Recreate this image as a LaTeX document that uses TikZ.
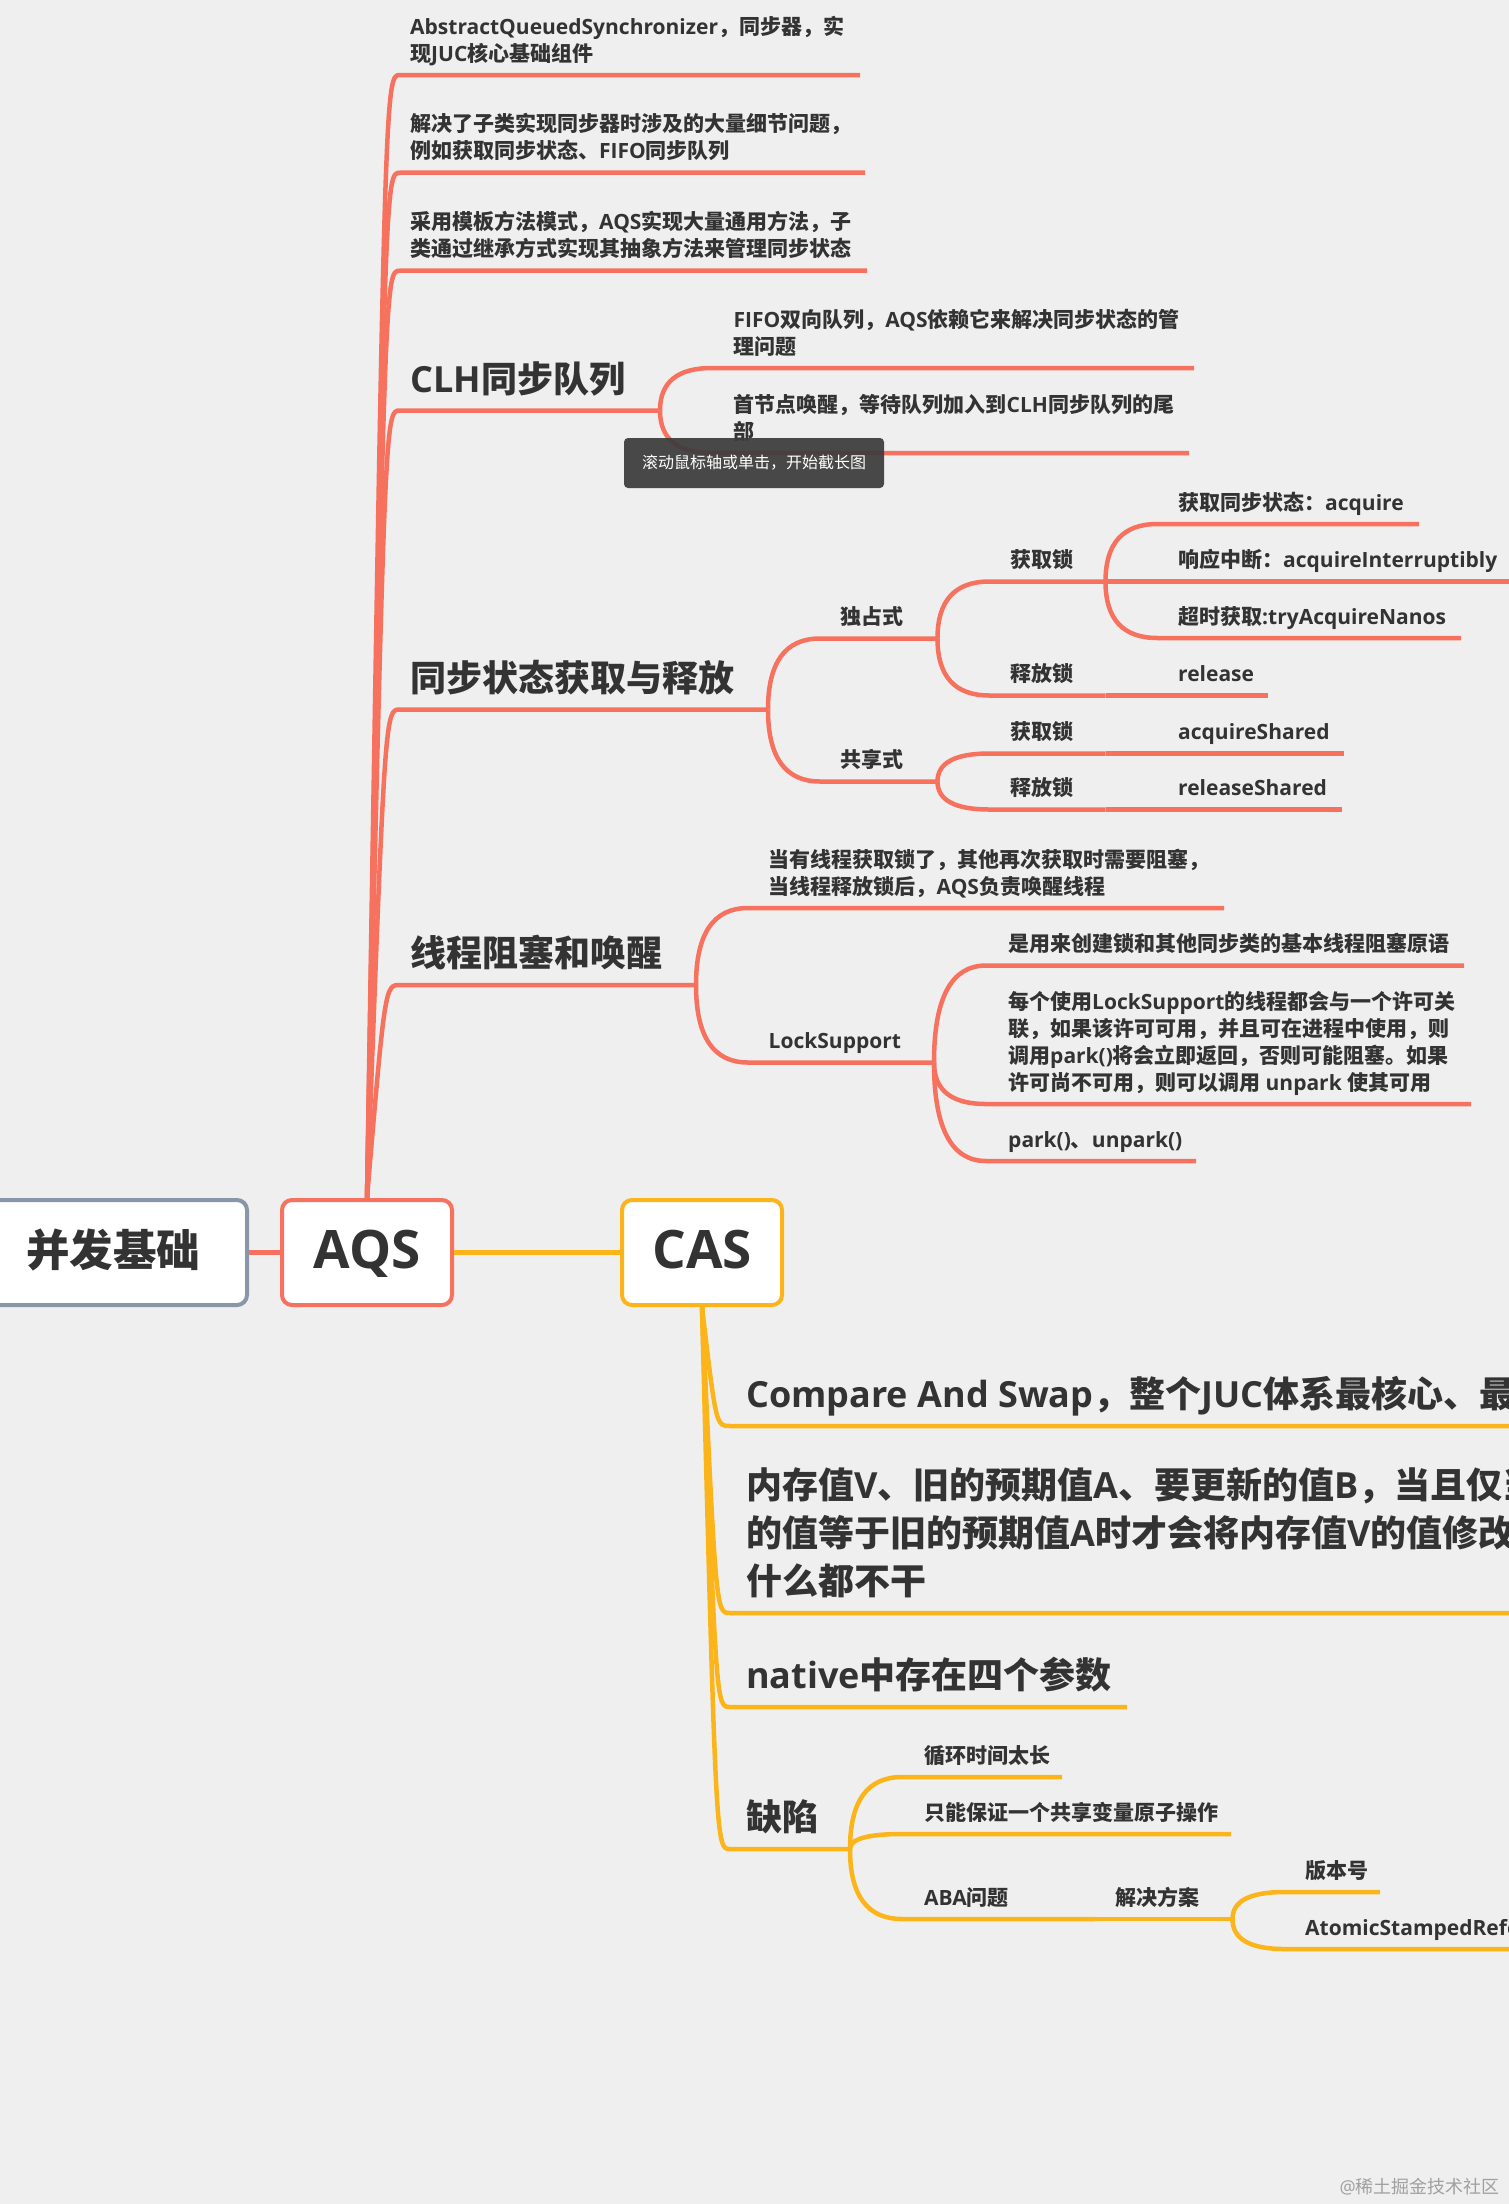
\documentclass[tikz,border=0pt]{standalone}
\usepackage{fontspec}
\usetikzlibrary{calc}
\setmainfont{Open Sans}
\newfontfamily\latf{Open Sans}
\newfontfamily\cjkf{Noto Sans CJK SC}
\XeTeXinterchartokenstate=1
\chardef\cjkcls=10
\newcount\cjkc
\def\setcjkrange#1#2{\cjkc=#1\relax\loop\XeTeXcharclass\cjkc=\cjkcls\relax\ifnum\cjkc<#2\relax\advance\cjkc by 1\relax\repeat}
\setcjkrange{"2E80}{"2FFF}
\setcjkrange{"3000}{"303F}
\setcjkrange{"3040}{"30FF}
\setcjkrange{"3400}{"4DBF}
\setcjkrange{"4E00}{"9FFF}
\setcjkrange{"F900}{"FAFF}
\setcjkrange{"FE30}{"FE4F}
\setcjkrange{"FF00}{"FFEF}
\XeTeXinterchartoks 0 \cjkcls = {\cjkf}
\XeTeXinterchartoks 4095 \cjkcls = {\cjkf}
\XeTeXinterchartoks \cjkcls 0 = {\latf}
\XeTeXinterchartoks \cjkcls 4095 = {\latf}
\definecolor{cA}{RGB}{246,114,95}
\definecolor{cC}{RGB}{251,181,27}
\definecolor{cR}{RGB}{137,150,168}
\definecolor{txt}{RGB}{51,51,51}
\definecolor{bgc}{RGB}{239,239,239}
\definecolor{tipc}{RGB}{60,60,60}
\definecolor{wmc}{RGB}{160,160,160}
\newcommand\ml[1]{\vtop{\let\\\cr\halign{##\hfil\cr#1\crcr}}}
\newcommand\trunkbr[5]{\draw[#1] (#2) .. controls ($(#2|-#3)+(#5,0)$) .. (#3) -- (#4);}
\newcommand\subbr[4]{\draw[#1] (#2) .. controls ($(#2)!0.6667!(#2|-#3)$) and ($(#3)!0.6667!(#2|-#3)$) .. (#3) -- (#4);}
\begin{document}
\begin{tikzpicture}[x=1pt,y=-1pt,
  lA/.style={draw=cA, line width=4.5pt},
  lC/.style={draw=cC, line width=4.5pt},
  sm/.style={anchor=base west, inner sep=0pt, text=txt, font=\fontsize{21}{27}\selectfont\bfseries\latf},
  lg/.style={anchor=base west, inner sep=0pt, text=txt, font=\fontsize{36}{48}\selectfont\bfseries\latf},
  topbox/.style={fill=white, line width=4pt, rounded corners=10pt, inner sep=0pt, minimum height=105pt, text=txt},
  boxA/.style={topbox, draw=cA, minimum width=170pt, text height=38pt, text depth=6pt, font=\fontsize{53}{60}\selectfont\bfseries\latf},
  boxC/.style={topbox, draw=cC, minimum width=160pt, text height=38pt, text depth=6pt, font=\fontsize{53}{60}\selectfont\bfseries\latf},
  rootbox/.style={topbox, draw=cR, minimum width=267pt, text height=38pt, text depth=11pt, font=\fontsize{43.5}{50}\selectfont\bfseries\latf},
  tipbox/.style={fill=tipc, fill opacity=0.93, text opacity=1, text=white, rounded corners=4pt, inner sep=0pt, minimum width=260pt, minimum height=50pt, font=\fontsize{16}{18}\selectfont\mdseries\latf},
  wmark/.style={anchor=base east, inner sep=0pt, text=wmc, font=\fontsize{18}{20}\selectfont\mdseries\latf}]
\clip (0,0) rectangle (1509,2204);
\fill[bgc] (0,0) rectangle (1509,2204);

% main topics
\node[rootbox] (root) at (113.5,1252.5) {并发基础};
\node[boxA] (aqs) at (367,1252.5) {AQS};
\node[boxC] (cas) at (702,1252.5) {CAS};
\draw[lA] (root.east) -- (aqs.west);
\draw[lC] (aqs.east) -- (cas.west);

% ---- AQS branch ----
\node[sm] (t1) at (410,34) {\ml{AbstractQueuedSynchronizer，同步器，实\\现JUC核心基础组件}};
\coordinate (t1s) at (400,75); \coordinate (t1e) at (860,75);
\node[sm] (t2) at (410,131.7) {\ml{解决了子类实现同步器时涉及的大量细节问题，\\例如获取同步状态、FIFO同步队列}};
\coordinate (t2s) at (400,172.7); \coordinate (t2e) at (865,172.7);
\node[sm] (t3) at (410,229.7) {\ml{采用模板方法模式，AQS实现大量通用方法，子\\类通过继承方式实现其抽象方法来管理同步状态}};
\coordinate (t3s) at (400,270.7); \coordinate (t3e) at (867,270.7);

\node[lg] (clh) at (410,392) {CLH同步队列};
\coordinate (clhs) at (400,410.5); \coordinate (clhb) at (660,410.5);
\node[sm] (fifo) at (733.5,327) {\ml{FIFO双向队列，AQS依赖它来解决同步状态的管\\理问题}};
\coordinate (fifos) at (712,368); \coordinate (fifoe) at (1194,368);
\node[sm] (head) at (733.5,412) {\ml{首节点唤醒，等待队列加入到CLH同步队列的尾\\部}};
\coordinate (heads) at (712,453); \coordinate (heade) at (1189,453);

\node[lg] (sync) at (410,691) {同步状态获取与释放};
\coordinate (syncs) at (400,709.5); \coordinate (syncb) at (768,709.5);
\node[sm] (ex) at (840.5,624.5) {独占式};
\coordinate (exs) at (820,638.5); \coordinate (exb) at (937.5,638.5);
\node[sm] (exacq) at (1010,567.5) {获取锁};
\coordinate (exacqs) at (989.5,581.5); \coordinate (exacqb) at (1105.5,581.5);
\node[sm] (acq1) at (1178,510) {获取同步状态：acquire};
\coordinate (acq1s) at (1157.5,524); \coordinate (acq1e) at (1419,524);
\node[sm] (acq2) at (1178,567.5) {响应中断：acquireInterruptibly};
\coordinate (acq2e) at (1530,581.5);
\node[sm] (acq3) at (1178,624) {超时获取:tryAcquireNanos};
\coordinate (acq3s) at (1157.5,638); \coordinate (acq3e) at (1461,638);
\node[sm] (exrel) at (1010,681.5) {释放锁};
\coordinate (exrels) at (989.5,695.5); \coordinate (exrelb) at (1105.5,695.5);
\node[sm] (rel) at (1178,681.5) {release};
\coordinate (rele) at (1268,695.5);
\node[sm] (sh) at (840.5,767.5) {共享式};
\coordinate (shs) at (820,781.5); \coordinate (shb) at (937.5,781.5);
\node[sm] (shacq) at (1010,739.5) {获取锁};
\coordinate (shacqs) at (989.5,753.5); \coordinate (shacqb) at (1105.5,753.5);
\node[sm] (acqs) at (1178,739.5) {acquireShared};
\coordinate (acqse) at (1344,753.5);
\node[sm] (shrel) at (1010,795.5) {释放锁};
\coordinate (shrels) at (989.5,809.5); \coordinate (shrelb) at (1105.5,809.5);
\node[sm] (rels) at (1178,795.5) {releaseShared};
\coordinate (relse) at (1342,809.5);

\node[lg] (blk) at (410,966.5) {线程阻塞和唤醒};
\coordinate (blks) at (400,985); \coordinate (blkb) at (696,985);
\node[sm] (blk1) at (768.5,867) {\ml{当有线程获取锁了，其他再次获取时需要阻塞，\\当线程释放锁后，AQS负责唤醒线程}};
\coordinate (blk1s) at (748,908); \coordinate (blk1e) at (1224,908);
\node[sm] (ls) at (768.5,1048.5) {LockSupport};
\coordinate (lss) at (748,1062.5); \coordinate (lsb) at (934,1062.5);
\node[sm] (ls1) at (1008,951.5) {是用来创建锁和其他同步类的基本线程阻塞原语};
\coordinate (ls1s) at (986,965.5); \coordinate (ls1e) at (1464,965.5);
\node[sm] (ls2) at (1008,1009) {\ml{每个使用LockSupport的线程都会与一个许可关\\联，如果该许可可用，并且可在进程中使用，则\\调用park()将会立即返回，否则可能阻塞。如果\\许可尚不可用，则可以调用 unpark 使其可用}};
\coordinate (ls2s) at (986,1104); \coordinate (ls2e) at (1471,1104);
\node[sm] (ls3) at (1008,1147) {park()、unpark()};
\coordinate (ls3s) at (986,1161); \coordinate (ls3e) at (1196,1161);

% ---- CAS branch ----
\node[lg] (cmp) at (746,1407.5) {Compare And Swap，整个JUC体系最核心、最基础理论};
\coordinate (cmps) at (730,1426); \coordinate (cmpe) at (1530,1426);
\node[lg] (mem) at (746,1498.5) {\ml{内存值V、旧的预期值A、要更新的值B，当且仅当内存值V\\的值等于旧的预期值A时才会将内存值V的值修改为B，否则\\什么都不干}};
\coordinate (mems) at (730,1613); \coordinate (meme) at (1530,1613);
\node[lg] (nat) at (746,1688.5) {native中存在四个参数};
\coordinate (nats) at (730,1707); \coordinate (nate) at (1127,1707);
\node[lg] (def) at (746,1830.5) {缺陷};
\coordinate (defs) at (730,1849); \coordinate (defb) at (850,1849);
\node[sm] (d1) at (924,1763) {循环时间太长};
\coordinate (d1s) at (902,1777); \coordinate (d1e) at (1062,1777);
\node[sm] (d2) at (924,1820) {只能保证一个共享变量原子操作};
\coordinate (d2s) at (902,1834); \coordinate (d2e) at (1231,1834);
\node[sm] (aba) at (924,1905) {ABA问题};
\coordinate (abas) at (902,1919); \coordinate (abae) at (1095,1919);
\node[sm] (sol) at (1115.5,1905) {解决方案};
\coordinate (solb) at (1232.5,1919);
\node[sm] (ver) at (1305,1878) {版本号};
\coordinate (vers) at (1284.5,1892); \coordinate (vere) at (1380,1892);
\node[sm] (asr) at (1305,1935) {AtomicStampedReference};
\coordinate (asrs) at (1284.5,1949); \coordinate (asre) at (1530,1949);

% ---- connectors ----
\trunkbr{lA}{aqs.north}{t1s}{t1e}{18}
\trunkbr{lA}{aqs.north}{t2s}{t2e}{18}
\trunkbr{lA}{aqs.north}{t3s}{t3e}{18}
\trunkbr{lA}{aqs.north}{clhs}{clhb}{18}
\subbr{lA}{clhb}{fifos}{fifoe}
\subbr{lA}{clhb}{heads}{heade}
\trunkbr{lA}{aqs.north}{syncs}{syncb}{18}
\subbr{lA}{syncb}{exs}{exb}
\subbr{lA}{exb}{exacqs}{exacqb}
\subbr{lA}{exacqb}{acq1s}{acq1e}
\draw[lA] (exacqb) -- (acq2e);
\subbr{lA}{exacqb}{acq3s}{acq3e}
\subbr{lA}{exb}{exrels}{exrelb}
\draw[lA] (exrelb) -- (rele);
\subbr{lA}{syncb}{shs}{shb}
\subbr{lA}{shb}{shacqs}{shacqb}
\draw[lA] (shacqb) -- (acqse);
\subbr{lA}{shb}{shrels}{shrelb}
\draw[lA] (shrelb) -- (relse);
\trunkbr{lA}{aqs.north}{blks}{blkb}{18}
\subbr{lA}{blkb}{blk1s}{blk1e}
\subbr{lA}{blkb}{lss}{lsb}
\subbr{lA}{lsb}{ls1s}{ls1e}
\subbr{lA}{lsb}{ls2s}{ls2e}
\subbr{lA}{lsb}{ls3s}{ls3e}

\trunkbr{lC}{cas.south}{cmps}{cmpe}{14}
\trunkbr{lC}{cas.south}{mems}{meme}{14}
\trunkbr{lC}{cas.south}{nats}{nate}{14}
\trunkbr{lC}{cas.south}{defs}{defb}{14}
\subbr{lC}{defb}{d1s}{d1e}
\subbr{lC}{defb}{d2s}{d2e}
\subbr{lC}{defb}{abas}{abae}
\draw[lC] (abae) -- (solb);
\subbr{lC}{solb}{vers}{vere}
\subbr{lC}{solb}{asrs}{asre}

% overlay tooltip and watermark
\node[tipbox] (tip) at (754,463) {滚动鼠标轴或单击，开始截长图};
\node[wmark] (wm) at (1500,2193) {@稀土掘金技术社区};
\end{tikzpicture}
\end{document}
